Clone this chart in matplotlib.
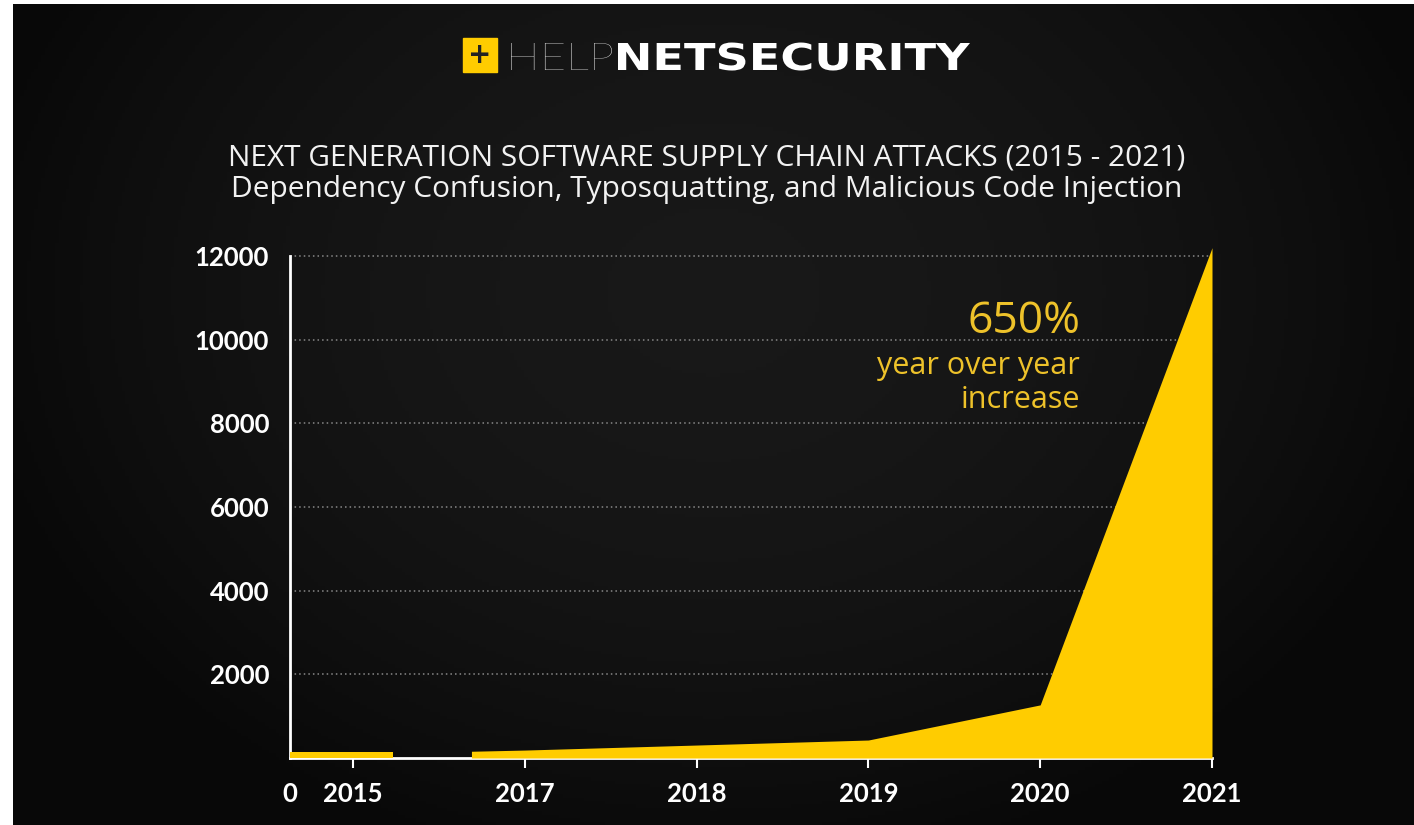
import numpy as np
import matplotlib.pyplot as plt
from matplotlib.patches import Rectangle, PathPatch
from matplotlib.textpath import TextPath
from matplotlib.font_manager import FontProperties
from matplotlib.transforms import Affine2D

years = ['2015', '2017', '2018', '2019', '2020', '2021']
attacks = [140, 190, 310, 430, 1270, 12200]
yticks = [2000, 4000, 6000, 8000, 10000, 12000]

title1 = 'NEXT GENERATION SOFTWARE SUPPLY CHAIN ATTACKS (2015 - 2021)'
title2 = 'Dependency Confusion, Typosquatting, and Malicious Code Injection'

yellow = '#FFCC00'
txt_yellow = '#EEC22A'

W, H = 1414, 825
fig = plt.figure(figsize=(14.14, 8.25), dpi=100)
fig.patch.set_facecolor('white')

# dark background panel with a soft lighter centre
bg = fig.add_axes([13/W, 0, 1 - 13/W, 1 - 4/H])
gx = np.linspace(-1, 1, 400)
gy = np.linspace(-1, 1, 240)
X, Y = np.meshgrid(gx, gy)
shade = 0.095 - 0.06 * np.clip(X**2 * 0.9 + (Y + 0.3)**2 * 0.5, 0, 1)
bg.imshow(shade, cmap='gray', vmin=0, vmax=1, aspect='auto', extent=[0, 1, 0, 1])
bg.set_axis_off()

# logo, drawn as paths in pixel coordinates so it can be stretched
fig.patches.append(Rectangle((463/W, 1 - 72/H), 34/W, 34/H,
                             transform=fig.transFigure, color=yellow, zorder=5))
fig.text(480/W, 1 - 55/H, '+', color='#222222', fontsize=20, fontweight='bold',
         ha='center', va='center', family='DejaVu Sans', zorder=6)


def logo_word(s, prop, x_left, x_right, cap_px, color):
    p = TextPath((0, 0), s, size=100, prop=prop)
    ext = p.get_extents()
    cap = TextPath((0, 0), 'H', size=100, prop=prop).get_extents()
    sy = cap_px / cap.height
    sx = (x_right - x_left) / ext.width
    tr = Affine2D().translate(-ext.x0, 0).scale(sx, sy).translate(x_left, H - 70)
    fig.patches.append(PathPatch(tr.transform_path(p), color=color, lw=0,
                                 transform=None, zorder=6))


logo_word('HELP', FontProperties(family='Lato', weight='light'), 511, 612, 27, '#e6e6e6')
logo_word('NETSECURITY', FontProperties(family='DejaVu Sans', weight='bold'),
          618, 970, 27, 'white')

fig.text(0.5, 1 - 158/H, title1, color='#f2f2f2', fontsize=21.5,
         family='Open Sans', ha='center', va='center')
fig.text(0.5, 1 - 190/H, title2, color='#f2f2f2', fontsize=21.5,
         family='Open Sans', ha='center', va='center')

ax = fig.add_axes([290/W, 0.0812, (1212 - 290)/W, 0.6211])
ax.set_facecolor('none')
x = np.arange(len(years))
x0 = -0.366
ax.set_xlim(x0, x[-1])
ax.set_ylim(0, 12250)

# 2015 block
ax.fill_between([x0, x[0] + 0.235], 0, attacks[0], color=yellow, lw=0, zorder=3)
# 2017 onwards
xs = np.concatenate([[x[1] - 0.31], x[1:]])
ys = np.concatenate([[attacks[1] * 0.85], attacks[1:]])
ax.fill_between(xs, 0, ys, color=yellow, lw=0, zorder=3)

ax.set_yticks(yticks)
ax.set_yticklabels([str(v) for v in yticks])
ax.yaxis.grid(True, color='#888888', ls=(0, (1, 2)), lw=1.1)
ax.set_axisbelow(True)
ax.set_xticks(x)
ax.set_xticklabels(years)
ax.tick_params(axis='x', colors='white', length=7, width=1.5, pad=10, labelsize=18.5)
ax.tick_params(axis='y', length=0, pad=15, labelsize=18.5, labelcolor='white')
for lab in ax.get_xticklabels() + ax.get_yticklabels():
    lab.set_fontweight('bold')
    lab.set_family('Lato')
ax.text(x0, -0.047, '0', transform=ax.get_xaxis_transform(), color='white',
        fontsize=18.5, fontweight='bold', family='Lato', ha='center', va='top')

for s in ['top', 'right']:
    ax.spines[s].set_visible(False)
ax.spines['left'].set_color('white')
ax.spines['left'].set_linewidth(2)
ax.spines['left'].set_bounds(0, 12000)
ax.spines['bottom'].set_color('white')
ax.spines['bottom'].set_linewidth(2)

ax.text(1080/W, 1 - 322/H, '650%', transform=fig.transFigure, color=txt_yellow,
        fontsize=32, family='Open Sans', fontweight='medium', ha='right', va='center')
ax.text(1080/W, 1 - 366/H, 'year over year', transform=fig.transFigure,
        color=txt_yellow, fontsize=22, family='Open Sans', ha='right', va='center')
ax.text(1080/W, 1 - 400/H, 'increase', transform=fig.transFigure,
        color=txt_yellow, fontsize=22, family='Open Sans', ha='right', va='center')

fig.savefig('out.png', dpi=100, facecolor=fig.get_facecolor())
